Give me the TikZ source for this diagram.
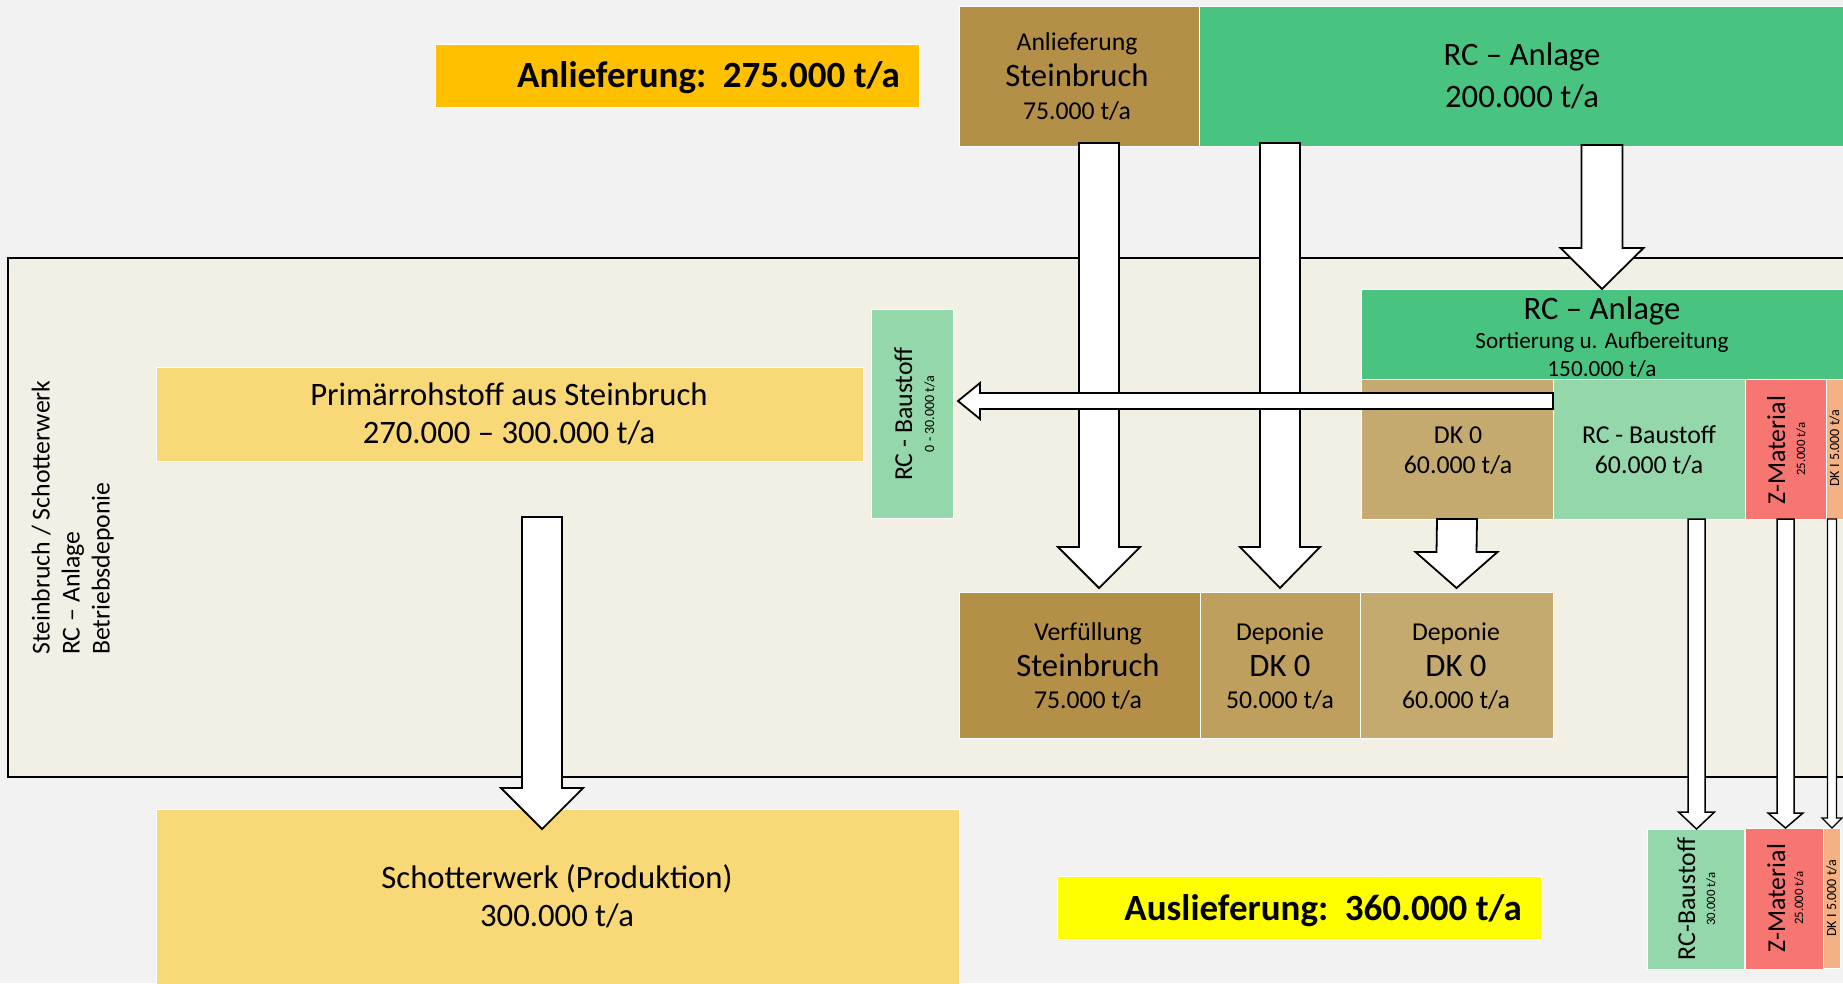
\documentclass[tikz,border=0pt]{standalone}
\usepackage{fontspec}
\setmainfont{Carlito}
\usetikzlibrary{calc}

\definecolor{grund}{HTML}{F2F2F2}
\definecolor{gelaende}{HTML}{F2EFE4}
\definecolor{anlgelb}{HTML}{FFC000}
\definecolor{ausgelb}{HTML}{FFFF00}
\definecolor{braun}{HTML}{B38F47}
\definecolor{braunmittel}{HTML}{BF9F5E}
\definecolor{braunhell}{HTML}{C5AA6F}
\definecolor{rcgruen}{HTML}{49C480}
\definecolor{hellgruen}{HTML}{93D7AB}
\definecolor{zrot}{HTML}{F87671}
\definecolor{pfirsich}{HTML}{F4B183}
\definecolor{sand}{HTML}{F8D877}

% Blockpfeil nach unten: Start, Spitze, halbe Schaftbreite, halbe Kopfbreite, Kopflaenge
\newcommand{\pfeilab}[6][]{%
  \draw[pfeil,#1] ($(#2)+(-#4,0)$) -- ($(#3)+(-#4,-#6)$) -- ($(#3)+(-#5,-#6)$)
    -- (#3) -- ($(#3)+(#5,-#6)$) -- ($(#3)+(#4,-#6)$) -- ($(#2)+(#4,0)$) -- cycle;}
% Blockpfeil nach links
\newcommand{\pfeillinks}[6][]{%
  \draw[pfeil,#1] ($(#2)+(0,-#4)$) -- ($(#3)+(#6,-#4)$) -- ($(#3)+(#6,-#5)$)
    -- (#3) -- ($(#3)+(#6,#5)$) -- ($(#3)+(#6,#4)$) -- ($(#2)+(0,#4)$) -- cycle;}

\begin{document}
\begin{tikzpicture}[x=1pt,y=-1pt,
    kasten/.style={inner sep=0pt,outer sep=0pt,anchor=north west,draw=white!70,line width=0.6pt},
    pfeil/.style={draw=black,fill=white,line width=1.8pt,line join=miter},
    zeile/.style={anchor=base,inner sep=0pt},
    hoch/.style={anchor=base,inner sep=0pt,rotate=90},
    fett/.style={font=\fontsize{37}{44}\selectfont\bfseries},
    gross/.style={font=\fontsize{32.7}{38}\selectfont},
    mittel/.style={font=\fontsize{25.7}{30}\selectfont},
    txtnorm/.style={font=\fontsize{25.8}{30}\selectfont},
    klein/.style={font=\fontsize{23.2}{27}\selectfont},
    winzig/.style={font=\fontsize{12.8}{15}\selectfont},
    mini/.style={font=\fontsize{14}{17}\selectfont}]

    \fill[grund] (0,0) rectangle (1843,983);
    \useasboundingbox (0,0) rectangle (1843,983);

    % Betriebsgelaende
    \fill[gelaende] (8,258) rectangle (1843,777);
    \draw[line width=2pt] (1843,258) -- (8,258) -- (8,777) -- (1843,777);
    \node[hoch,txtnorm,align=left,anchor=south west] (gelaende) at (114,655)
        {Steinbruch / Schotterwerk\\RC – Anlage\\Betriebsdeponie};

    % Anlieferung
    \node[kasten,fill=anlgelb,minimum width=484,minimum height=63] (anl) at (435,44) {};
    \node[fett,zeile,anchor=base east] (anltxt) at (900,87) {Anlieferung:\ \ 275.000 t/a};

    \node[kasten,fill=braun,minimum width=240,minimum height=140] (stein) at (959,6) {};
    \node[mittel,zeile] (stein1) at (1077,50) {Anlieferung};
    \node[gross,zeile] (stein2) at (1077,86) {Steinbruch};
    \node[mittel,zeile] (stein3) at (1077,119) {75.000 t/a};

    \node[kasten,fill=rcgruen,minimum width=644,minimum height=140] (rc) at (1199,6) {};
    \node[gross,zeile] (rc1) at (1522,65) {RC – Anlage};
    \node[gross,zeile] (rc2) at (1522,107) {200.000 t/a};

    % RC-Anlage auf dem Gelaende
    \node[kasten,fill=rcgruen,minimum width=482,minimum height=90] (sort) at (1361,289) {};
    \node[gross,zeile] (sort1) at (1602,319) {RC – Anlage};
    \node[klein,zeile] (sort2) at (1602,348) {Sortierung u. Aufbereitung};
    \node[klein,zeile] (sort3) at (1602,376) {150.000 t/a};

    \node[kasten,fill=braunhell,minimum width=192,minimum height=140] (dk0) at (1361,379) {};
    \node[txtnorm,zeile] (dk01) at (1458,443) {DK 0};
    \node[txtnorm,zeile] (dk02) at (1458,473) {60.000 t/a};

    \node[kasten,fill=hellgruen,minimum width=192,minimum height=140] (rcb) at (1553,379) {};
    \node[txtnorm,zeile] (rcb1) at (1649,443) {RC - Baustoff};
    \node[txtnorm,zeile] (rcb2) at (1649,473) {60.000 t/a};

    \node[kasten,fill=zrot,minimum width=81,minimum height=140] (zmat) at (1745,379) {};
    \node[hoch,txtnorm] (zmat1) at (1785,450) {Z-Material};
    \node[hoch,winzig] (zmat2) at (1805,449) {25.000 t/a};

    \node[kasten,fill=pfirsich,minimum width=17,minimum height=140] (dk1) at (1826,379) {};
    \node[hoch,mini] (dk1txt) at (1839,448) {DK I 5.000 t/a};

    \node[kasten,fill=hellgruen,minimum width=82,minimum height=209] (rcbl) at (871,309) {};
    \node[hoch,txtnorm] (rcbl1) at (912,414) {RC - Baustoff};
    \node[hoch,mini] (rcbl2) at (934,414) {0 - 30.000 t/a};

    % Steinbruch und Deponie
    \node[kasten,fill=sand,minimum width=707,minimum height=94] (prim) at (156,367) {};
    \node[gross,zeile] (prim1) at (509,405) {Primärrohstoff aus Steinbruch};
    \node[gross,zeile] (prim2) at (509,443) {270.000 – 300.000 t/a};

    \node[kasten,fill=braun,minimum width=241,minimum height=146] (verf) at (959,592) {};
    \node[mittel,zeile] (verf1) at (1088,640) {Verfüllung};
    \node[gross,zeile] (verf2) at (1088,676) {Steinbruch};
    \node[mittel,zeile] (verf3) at (1088,708) {75.000 t/a};

    \node[kasten,fill=braunmittel,minimum width=160,minimum height=146] (dep50) at (1200,592) {};
    \node[mittel,zeile] (dep501) at (1280,640) {Deponie};
    \node[gross,zeile] (dep502) at (1280,676) {DK 0};
    \node[mittel,zeile] (dep503) at (1280,708) {50.000 t/a};

    \node[kasten,fill=braunhell,minimum width=193,minimum height=146] (dep60) at (1360,592) {};
    \node[mittel,zeile] (dep601) at (1456,640) {Deponie};
    \node[gross,zeile] (dep602) at (1456,676) {DK 0};
    \node[mittel,zeile] (dep603) at (1456,708) {60.000 t/a};

    % Auslieferung
    \node[kasten,fill=sand,minimum width=803,minimum height=176] (schotter) at (156,809) {};
    \node[gross,zeile] (schotter1) at (557,888) {Schotterwerk (Produktion)};
    \node[gross,zeile] (schotter2) at (557,926) {300.000 t/a};

    \node[kasten,fill=ausgelb,minimum width=484,minimum height=63] (aus) at (1057,876) {};
    \node[fett,zeile,anchor=base east] (austxt) at (1522,920) {Auslieferung:\ \ 360.000 t/a};

    \node[kasten,fill=hellgruen,minimum width=97,minimum height=140] (rcbu) at (1647,829) {};
    \node[hoch,txtnorm] (rcbu1) at (1695,899) {RC-Baustoff};
    \node[hoch,winzig] (rcbu2) at (1715,899) {30.000 t/a};

    \node[kasten,fill=zrot,minimum width=78,minimum height=141] (zmatu) at (1745,828) {};
    \node[hoch,txtnorm] (zmatu1) at (1785,898) {Z-Material};
    \node[hoch,winzig] (zmatu2) at (1803,898) {25.000 t/a};

    \node[kasten,fill=pfirsich,minimum width=17,minimum height=140] (dk1u) at (1823,828) {};
    \node[hoch,mini] (dk1utxt) at (1836,898) {DK I 5.000 t/a};

    % Stoffstroeme
    \coordinate (a1s) at ($(stein.south)+(20,-3)$);
    \coordinate (a1e) at ($(verf.north)+(19.5,-4)$);
    \coordinate (a2s) at ($(dep50.north |- rc.south)+(0,-3)$);
    \coordinate (a2e) at ($(dep50.north)+(0,-4)$);
    \coordinate (a3s) at ($(sort.north |- rc.south)+(0,-1)$);
    \coordinate (a4e) at ($(dep60.north)+(0,-4)$);
    \coordinate (a5s) at ($(rcb.north west)+(0,22)$);
    \coordinate (a5e) at ($(rcbl.east)+(5,-12.5)$);
    \coordinate (a6s) at ($(rcb.south)+(47.5,0)$);
    \coordinate (a6e) at (a6s |- rcbu.north);
    \coordinate (a7e) at (zmat.south |- zmatu.north);
    \coordinate (a8s) at ($(dk1.south)+(-2.5,0)$);
    \coordinate (a8e) at (a8s |- dk1u.north);
    \coordinate (a9s) at ($(prim.south)+(32.5,56)$);
    \coordinate (a9e) at ($(a9s |- schotter.north)+(0,20)$);

    \pfeilab{a1s}{a1e}{20}{41}{41}
    \pfeilab{a2s}{a2e}{20}{40}{41}
    \pfeilab{a3s}{sort.north}{20.5}{41.5}{41}
    \pfeilab{dk0.south}{a4e}{20}{41}{36}
    \pfeilab{a9s}{a9e}{20}{41}{41}
    \pfeillinks{a5s}{a5e}{8}{18}{22}
    \pfeilab[line width=1.5pt]{a6s}{a6e}{8.5}{18}{17}
    \pfeilab[line width=1.5pt]{zmat.south}{a7e}{8.5}{17.5}{15}
    \pfeilab[line width=1.2pt]{a8s}{a8e}{4.5}{10}{10}
\end{tikzpicture}
\end{document}
